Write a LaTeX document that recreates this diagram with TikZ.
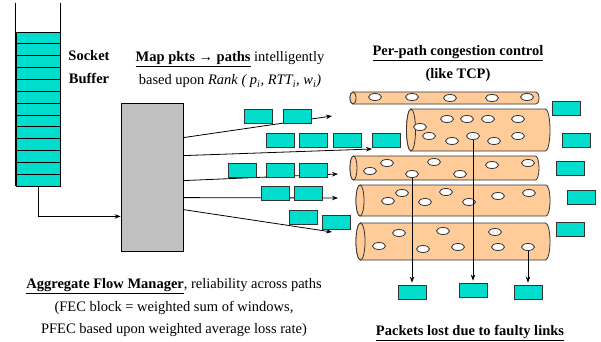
\documentclass[tikz,border=0pt]{standalone}
\usepackage{fontspec}
\setmainfont{Liberation Serif}
\usetikzlibrary{arrows.meta,shapes.geometric}

\definecolor{pktcyan}{RGB}{0,221,204}
\definecolor{pipepeach}{RGB}{255,204,153}
\definecolor{afmgray}{RGB}{192,192,192}

\tikzset{
  pkt/.style={draw=black!80, fill=pktcyan, minimum width=28pt, minimum height=14pt, inner sep=0pt},
  bub/.style={ellipse, draw=black!80, fill=white, minimum width=13pt, minimum height=7pt, inner sep=0pt},
  pipebody/.style={draw=black!80, fill=pipepeach},
  lbl/.style={font=\fontsize{14.5}{23}\selectfont, align=center, inner sep=0pt},
  lblb/.style={lbl, font=\fontsize{14.5}{23}\selectfont\bfseries},
  flow/.style={-{Stealth[length=6pt,width=4.5pt]}}
}

% x0, x1, ytop, ybot, rx (y counted downwards)
\newcommand{\drawpipe}[5]{%
  \pgfmathsetmacro\pry{(#4-#3)/2}
  \filldraw[pipebody] (#1,-#3) -- (#2,-#3)
    arc[start angle=90,end angle=-90,x radius=#5,y radius=\pry]
    -- (#1,-#4) arc[start angle=-90,end angle=-270,x radius=#5,y radius=\pry] -- cycle;
  \draw[pipebody] (#1,-#3-\pry) ellipse[x radius=#5,y radius=\pry];
}

\begin{document}
\begin{tikzpicture}[x=1pt, y=1pt, line width=0.8pt]
  \useasboundingbox (0,0) rectangle (601,-341);

  % socket buffer
  \node[minimum width=44pt, minimum height=183pt, inner sep=0pt] (buf) at (38,-94.5) {};
  \foreach \k in {0,...,12}
    \draw[fill=pktcyan] (16,-32-\k*11.85) rectangle (60,-43.85-\k*11.85);
  \draw (buf.north west) -- (buf.south west);
  \draw (buf.north east) -- (buf.south east);
  \node[lblb] (sock) at (89,-67.5) {Socket\\Buffer};

  % aggregate flow manager
  \node[draw, fill=afmgray, minimum width=62pt, minimum height=148pt, inner sep=0pt] (afm) at (152,-177) {};
  \draw[flow] (buf.south) |- ([yshift=35pt]afm.south west);

  % mapping to paths
  \coordinate (t1) at (332,-116);
  \coordinate (t2) at (372,-149);
  \coordinate (t3) at (338,-174);
  \coordinate (t4) at (338,-198);
  \coordinate (t5) at (332,-232);
  \draw[flow] ([yshift=-35pt]afm.north east) -- (t1);
  \draw[flow] ([yshift=-53pt]afm.north east) -- (t2);
  \draw[flow] ([yshift=-78pt]afm.north east) -- (t3);
  \draw[flow] ([yshift=-95pt]afm.north east) -- (t4);
  \draw[flow] ([yshift=-107pt]afm.north east) -- (t5);

  \node[pkt] (r1a) at (258,-116) {};
  \node[pkt] (r1b) at (297,-116) {};
  \node[pkt] (r2a) at (280,-140) {};
  \node[pkt] (r2b) at (313,-140) {};
  \node[pkt] (r2c) at (347,-140) {};
  \node[pkt] (r2d) at (386,-140) {};
  \node[pkt] (r3a) at (242,-170) {};
  \node[pkt] (r3b) at (280,-170) {};
  \node[pkt] (r3c) at (313,-170) {};
  \node[pkt] (r4a) at (275,-193) {};
  \node[pkt] (r4b) at (308,-193) {};
  \node[pkt] (r5a) at (303,-217) {};
  \node[pkt] (r5b) at (336,-222) {};

  \node[lbl] (maptxt) at (230,-70) {\underline{\textbf{Map pkts → paths}} intelligently\\
    based upon \textit{Rank ( p\textsubscript{i}, RTT\textsubscript{i}, w\textsubscript{i})}};

  % paths
  \drawpipe{353}{536}{92}{104}{3}
  \drawpipe{411}{545.5}{109}{151}{4.5}
  \drawpipe{353.5}{535.5}{156}{180}{3.5}
  \drawpipe{360}{546}{185}{216}{4}
  \drawpipe{360.5}{545.5}{223}{260}{4.5}

  \foreach \bx/\by in {375/97, 412/97, 450/98, 492/98, 527/97,
      420/127, 447/119, 467/119, 488/119, 518/119, 429/136, 452/141, 494/141, 518/136,
      370/171, 387/163, 434/162, 460/174, 492/165, 528/163,
      388/201, 402/193, 425/202, 446/192, 469/202, 498/196, 529/193,
      379/246, 399/233, 423/249, 443/231, 458/247, 495/232, 498/247}
    \node[bub] at (\bx,-\by) {};
  \node[bub] (lb1) at (412,-174) {};
  \node[bub] (lb2) at (473,-136) {};
  \node[bub] (lb3) at (528,-247) {};

  \node[pkt] (o1) at (566,-108) {};
  \node[pkt] (o2) at (576,-140) {};
  \node[pkt] (o3) at (570,-168) {};
  \node[pkt] (o4) at (581,-197) {};
  \node[pkt] (o5) at (570,-229) {};

  \node[lblb] (cctxt) at (458,-64) {\underline{Per-path congestion control}\\(like TCP)};

  % lost packets
  \node[pkt] (lost1) at (412,-292) {};
  \node[pkt] (lost2) at (473,-290) {};
  \node[pkt] (lost3) at (528,-292) {};
  \draw[flow, shorten >=2pt] (lb1.south) -- (lost1.north);
  \draw[flow, shorten >=2pt] (lb2.south) -- (lost2.north);
  \draw[flow, shorten >=2pt] (lb3.south) -- (lost3.north);

  \node[lbl, font=\fontsize{14.5}{22.5}\selectfont] (afmtxt) at (174,-308)
    {\underline{\textbf{Aggregate Flow Manager}}, reliability across paths\\
     (FEC block = weighted sum of windows,\\
     PFEC based upon weighted average loss rate)};
  \node[lblb] (losttxt) at (470,-333) {\underline{Packets lost due to faulty links}};
\end{tikzpicture}
\end{document}
